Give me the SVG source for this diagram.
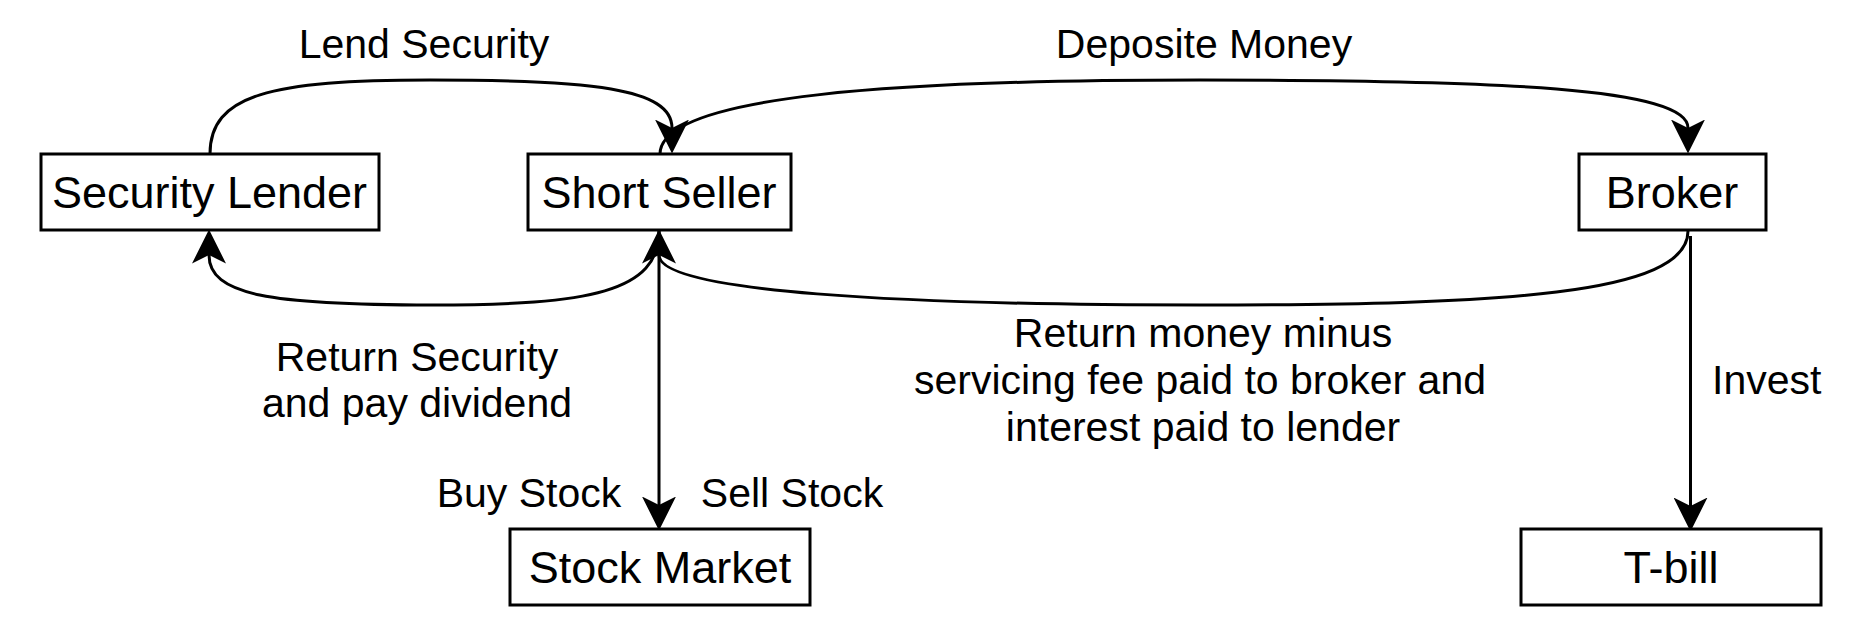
<svg xmlns="http://www.w3.org/2000/svg" width="1852" height="631" viewBox="0 0 1852 631">
<style>
.box{fill:#fff;stroke:#000;stroke-width:3}
.nt{font-family:"Liberation Sans",Arial,sans-serif;font-size:45px;fill:#000;text-anchor:middle}
.lt{font-family:"Liberation Sans",Arial,sans-serif;font-size:41px;fill:#000;text-anchor:middle}
.edge{fill:none;stroke:#000;stroke-width:3}
</style>
<defs>
<marker id="arr" markerUnits="userSpaceOnUse" markerWidth="34" markerHeight="34" viewBox="0 0 32 32" refX="8" refY="16" orient="auto">
<path d="M32,16 L0,0 L8,16 L0,32 Z" fill="#000"/>
</marker>
</defs>
<rect width="1852" height="631" fill="#fff"/>
<g id="connectors">
<path class="edge" d="M210,154 C210,95 270,80 430,80 C590,80 672,88 672,128" marker-end="url(#arr)"/>
<path class="edge" d="M660,154 C660,95 900,80 1200,80 C1500,80 1688,88 1688,128" marker-end="url(#arr)"/>
<path class="edge" d="M659,231 C659,292 590,305 432,305 C270,305 209,295 209,255" marker-end="url(#arr)"/>
<path class="edge" d="M1688,231 C1688,295 1500,305 1200,305 C900,305 659,292 659,255" marker-end="url(#arr)"/>
<path class="edge" d="M659,231 L659,505" marker-end="url(#arr)"/>
<path class="edge" d="M1690.5,236 L1690.5,506" marker-end="url(#arr)"/>
<text class="lt" x="424" y="58">Lend Security</text>
<text class="lt" x="1204" y="58">Deposite Money</text>
<text class="lt" x="417" y="371">Return Security</text>
<text class="lt" x="417" y="417">and pay dividend</text>
<text class="lt" x="1203" y="347">Return money minus</text>
<text class="lt" x="1200" y="394">servicing fee paid to broker and</text>
<text class="lt" x="1203" y="441">interest paid to lender</text>
<text class="lt" x="529" y="507">Buy Stock</text>
<text class="lt" x="792" y="507">Sell Stock</text>
<text class="lt" x="1712" y="394" style="text-anchor:start">Invest</text>
</g>
<g id="security-lender">
<rect class="box" x="41" y="154" width="338" height="76"/>
<text class="nt" x="209.5" y="208">Security Lender</text>
</g>
<g id="short-seller">
<rect class="box" x="528" y="154" width="263" height="76"/>
<text class="nt" x="659" y="208">Short Seller</text>
</g>
<g id="broker">
<rect class="box" x="1579" y="154" width="187" height="76"/>
<text class="nt" x="1672" y="208">Broker</text>
</g>
<g id="stock-market">
<rect class="box" x="510" y="529" width="300" height="76"/>
<text class="nt" x="660" y="583">Stock Market</text>
</g>
<g id="t-bill">
<rect class="box" x="1521" y="529" width="300" height="76"/>
<text class="nt" x="1671" y="583">T-bill</text>
</g>
</svg>
